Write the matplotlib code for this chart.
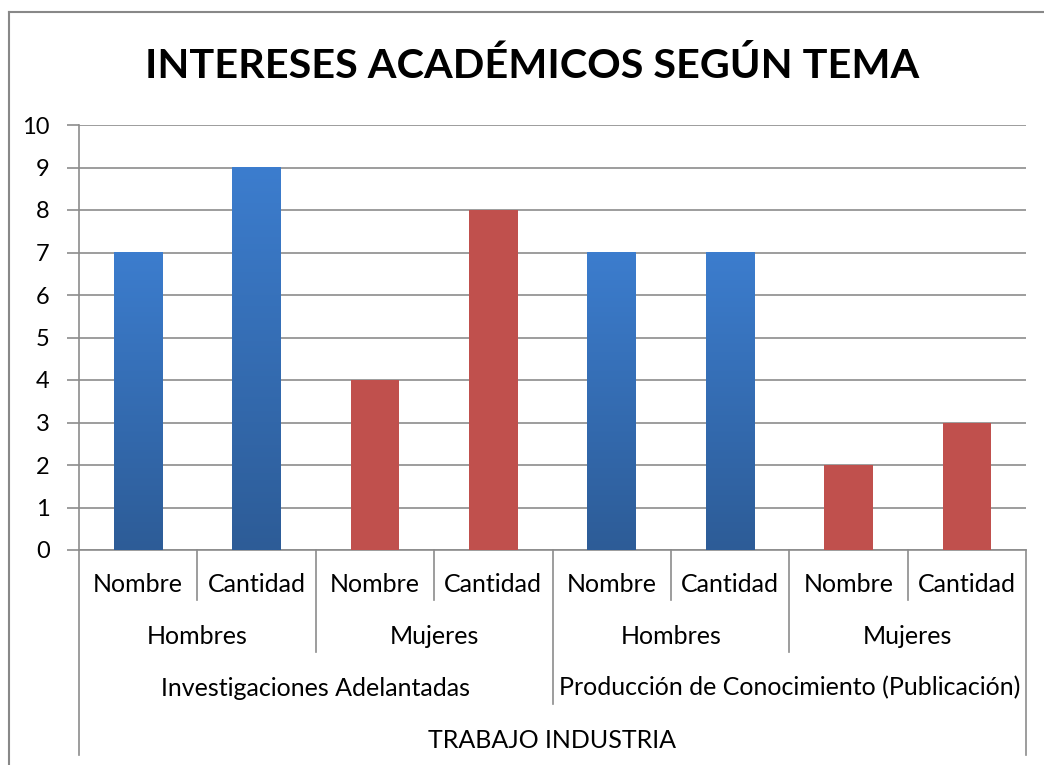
import numpy as np
import matplotlib.pyplot as plt
from matplotlib.colors import LinearSegmentedColormap
from matplotlib.lines import Line2D
import matplotlib.transforms as mtransforms

plt.rcParams['font.family'] = ['Lato', 'DejaVu Sans']

# Data
level1 = ["Nombre", "Cantidad", "Nombre", "Cantidad", "Nombre", "Cantidad", "Nombre", "Cantidad"]
level2 = ["Hombres", "Mujeres", "Hombres", "Mujeres"]
level3 = ["Investigaciones Adelantadas", "Producción de Conocimiento (Publicación)"]
level4 = ["TRABAJO INDUSTRIA"]
values = [7, 9, 4, 8, 7, 7, 2, 3]
title = "INTERESES ACADÉMICOS SEGÚN TEMA"

blue_top, blue_bot = "#3C7DCE", "#2D5C97"
red = "#C0504D"
grid_col = "#8C8C8C"

fig = plt.figure(figsize=(10.44, 7.65), dpi=100)
ax = fig.add_axes([79 / 1044, 1 - 550 / 765, (1026 - 79) / 1044, (550 - 125) / 765])

n = len(values)
x = np.arange(n) + 0.5
width = 0.41
blue_cmap = LinearSegmentedColormap.from_list("bl", [blue_bot, blue_top])
grad = np.linspace(0, 1, 256).reshape(-1, 1)

for i, (xi, v) in enumerate(zip(x, values)):
    gender = level2[i // 2]
    if gender == "Hombres":
        ax.imshow(grad, cmap=blue_cmap, aspect="auto", origin="lower",
                  extent=(xi - width / 2, xi + width / 2, 0, v), zorder=3)
    else:
        ax.bar(xi, v, width=width, color=red, zorder=3)

ax.set_xlim(0, n)
ax.set_ylim(0, 10)
ax.set_yticks(range(0, 11))
ax.yaxis.grid(True, color=grid_col, linewidth=1.2)
ax.set_axisbelow(True)
ax.set_xticks([])
for s in ["top", "right"]:
    ax.spines[s].set_visible(False)
ax.spines["left"].set_color(grid_col)
ax.spines["bottom"].set_color(grid_col)
ax.spines["left"].set_linewidth(1.2)
ax.spines["bottom"].set_linewidth(1.2)
ax.tick_params(axis="y", length=9, width=1.2, color=grid_col, labelsize=17, pad=12)

# multi-level category axis
tr = mtransforms.blended_transform_factory(ax.transData, fig.transFigure)
def fy(px):
    return 1 - px / 765

def vline(xv, y_end):
    fig.add_artist(Line2D([xv, xv], [fy(550), fy(y_end)], transform=tr,
                          color=grid_col, linewidth=1.2, clip_on=False))

for b in range(n + 1):
    if b in (0, n):
        vline(b, 755)
    elif b % 4 == 0:
        vline(b, 704)
    elif b % 2 == 0:
        vline(b, 652)
    else:
        vline(b, 600)

fs = 18
for i, lab in enumerate(level1):
    fig.text(i + 0.5, fy(585), lab, transform=tr, ha="center", va="center", fontsize=fs)
for i, lab in enumerate(level2):
    fig.text(2 * i + 1, fy(637), lab, transform=tr, ha="center", va="center", fontsize=fs)
for i, lab in enumerate(level3):
    fig.text(4 * i + 2, fy(688), lab, transform=tr, ha="center", va="center", fontsize=fs)
fig.text(n / 2, fy(740), level4[0], transform=tr, ha="center", va="center", fontsize=fs)

fig.text(532 / 1044, fy(66), title, ha="center", va="center", fontsize=29.8, fontweight="bold")

# chart frame (top and left edges visible)
fig.add_artist(Line2D([9 / 1044, 1], [fy(12), fy(12)], color="#888888", linewidth=1.5))
fig.add_artist(Line2D([9 / 1044, 9 / 1044], [0, fy(12)], color="#888888", linewidth=1.5))

fig.savefig("out.png", dpi=100)
